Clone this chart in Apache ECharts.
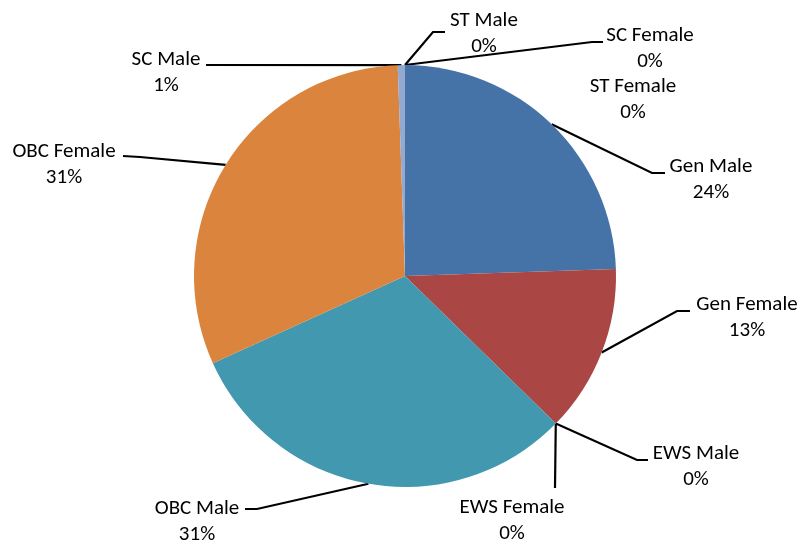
<!DOCTYPE html>
<html>
<head>
<meta charset="utf-8">
<title>Category share</title>
<script src="https://cdn.jsdelivr.net/npm/echarts@6/dist/echarts.min.js"></script>
<style>
  html, body { margin: 0; padding: 0; background: #fff; }
  #pieDiv { width: 802px; height: 541px; }
</style>
</head>
<body>
<div id="pieDiv"></div>
<script>
// data (share of total, in %)
var categories = ['Gen Male', 'Gen Female', 'EWS Male', 'EWS Female', 'OBC Male',
                  'OBC Female', 'SC Male', 'ST Male', 'SC Female', 'ST Female'];
var shares = [24.47, 12.86, 0, 0, 30.89, 31.23, 0.55, 0, 0, 0];
var colours = ['#4572A7', '#AA4643', '#89A54E', '#71588F', '#4198AF',
               '#DB843D', '#93A9CF', '#D19392', '#B9CD96', '#A99BBD'];

// where the labels sit, like the Excel layout: label centre, bend, line end
var labelSpots = [
    {at: [711, 180], bend: [652, 173], end: [665, 173]},
    {at: [747, 318], bend: [677, 311], end: [690, 311]},
    {at: [696, 467], bend: [637, 460], end: [648, 460]},
    {at: [512, 521], bend: null, end: [555, 488]},
    {at: [197, 522], bend: [257, 509], end: [245, 509]},
    {at: [64, 165], bend: [140, 157], end: [123, 156]},
    {at: [166, 73], bend: null, end: [206, 65]},
    {at: [484, 34], bend: [433, 32], end: [445, 32]},
    {at: [650, 49], bend: [592, 42], end: [603, 42]},
    {at: [633, 100], bend: null, end: null}
];

var pieChart;

window.onload = function () {
    pieChart = echarts.init(document.getElementById('pieDiv'), null, {renderer: 'canvas'});

    var pieData = categories.map(function (name, i) {
        var item = {name: name, value: shares[i], itemStyle: {color: colours[i]}};
        if (!labelSpots[i].end) {
            item.labelLine = {show: false};
        }
        return item;
    });

    var option = {
        animation: false,
        backgroundColor: '#fff',
        series: [
            {
                type: 'pie',
                center: [405, 276],
                radius: 211,
                startAngle: 90,
                clockwise: true,
                avoidLabelOverlap: false,
                data: pieData,
                itemStyle: {borderWidth: 0},
                label: {
                    show: true,
                    position: 'outside',
                    color: '#000',
                    fontFamily: 'Carlito, Calibri, Lato, sans-serif',
                    fontSize: 21,
                    lineHeight: 26,
                    align: 'center',
                    formatter: function (p) {
                        return p.name + '\n' + Math.round(p.percent) + '%';
                    }
                },
                labelLine: {
                    show: true,
                    length: 20,
                    length2: 12,
                    smooth: false,
                    lineStyle: {color: '#000', width: 2.2}
                },
                // 标签位置
                labelLayout: function (params) {
                    var spot = labelSpots[params.dataIndex];
                    var out = {
                        x: spot.at[0],
                        y: spot.at[1],
                        align: 'center',
                        verticalAlign: 'middle'
                    };
                    if (spot.end && params.labelLinePoints && params.labelLinePoints.length) {
                        var pts = [params.labelLinePoints[0]];
                        if (spot.bend) pts.push(spot.bend);
                        pts.push(spot.end);
                        out.labelLinePoints = pts;
                    }
                    return out;
                }
            }
        ]
    };
    pieChart.setOption(option);
};
</script>
</body>
</html>
